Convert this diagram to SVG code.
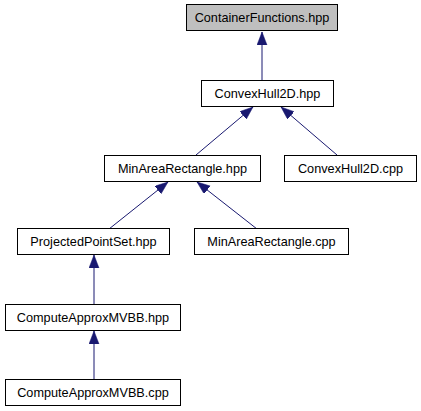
<svg xmlns="http://www.w3.org/2000/svg" width="421" height="411" viewBox="0 0 421 411">
<style>
.box rect{fill:#ffffff;stroke:#000000;stroke-width:1}
.box text{font-family:"Liberation Sans",Arial,Helvetica,sans-serif;font-size:12.7px;text-anchor:middle;fill:#000000}
.edge{stroke:#191970;stroke-width:1;fill:none;marker-end:url(#arr)}
</style>
<defs>
<marker id="arr" markerUnits="userSpaceOnUse" markerWidth="16" markerHeight="12" refX="13" refY="5" orient="auto">
<path d="M0,0 L13,5 L0,10 Z" fill="#191970" stroke="#191970" stroke-width="0.5"/>
</marker>
</defs>
<rect width="421" height="411" fill="#ffffff"/>
<g id="connectors">
<line class="edge" x1="262" y1="80" x2="262" y2="32"/>
<line class="edge" x1="196" y1="155" x2="253" y2="107"/>
<line class="edge" x1="337" y1="155" x2="281" y2="107"/>
<line class="edge" x1="109" y1="229" x2="168" y2="182"/>
<line class="edge" x1="257" y1="229" x2="197" y2="182"/>
<line class="edge" x1="94" y1="305" x2="94" y2="255"/>
<line class="edge" x1="94" y1="380" x2="94" y2="331"/>
</g>
<g id="node_ContainerFunctions" class="box">
<rect x="186.5" y="4.5" width="151" height="26" style="fill:#bfbfbf"/>
<text x="262" y="22">ContainerFunctions.hpp</text>
</g>
<g id="node_ConvexHull2D_hpp" class="box">
<rect x="201.5" y="80.5" width="132" height="26"/>
<text x="267.5" y="98">ConvexHull2D.hpp</text>
</g>
<g id="node_MinAreaRectangle_hpp" class="box">
<rect x="104.5" y="155.5" width="156" height="26"/>
<text x="182.5" y="173">MinAreaRectangle.hpp</text>
</g>
<g id="node_ConvexHull2D_cpp" class="box">
<rect x="284.5" y="155.5" width="132" height="26"/>
<text x="350.5" y="173">ConvexHull2D.cpp</text>
</g>
<g id="node_ProjectedPointSet_hpp" class="box">
<rect x="17.5" y="228.5" width="152" height="26"/>
<text x="93.5" y="246">ProjectedPointSet.hpp</text>
</g>
<g id="node_MinAreaRectangle_cpp" class="box">
<rect x="194.5" y="228.5" width="154" height="26"/>
<text x="271.5" y="246">MinAreaRectangle.cpp</text>
</g>
<g id="node_ComputeApproxMVBB_hpp" class="box">
<rect x="5.5" y="304.5" width="175" height="26"/>
<text x="93" y="322">ComputeApproxMVBB.hpp</text>
</g>
<g id="node_ComputeApproxMVBB_cpp" class="box">
<rect x="5.5" y="379.5" width="175" height="26"/>
<text x="93" y="397">ComputeApproxMVBB.cpp</text>
</g>
</svg>
